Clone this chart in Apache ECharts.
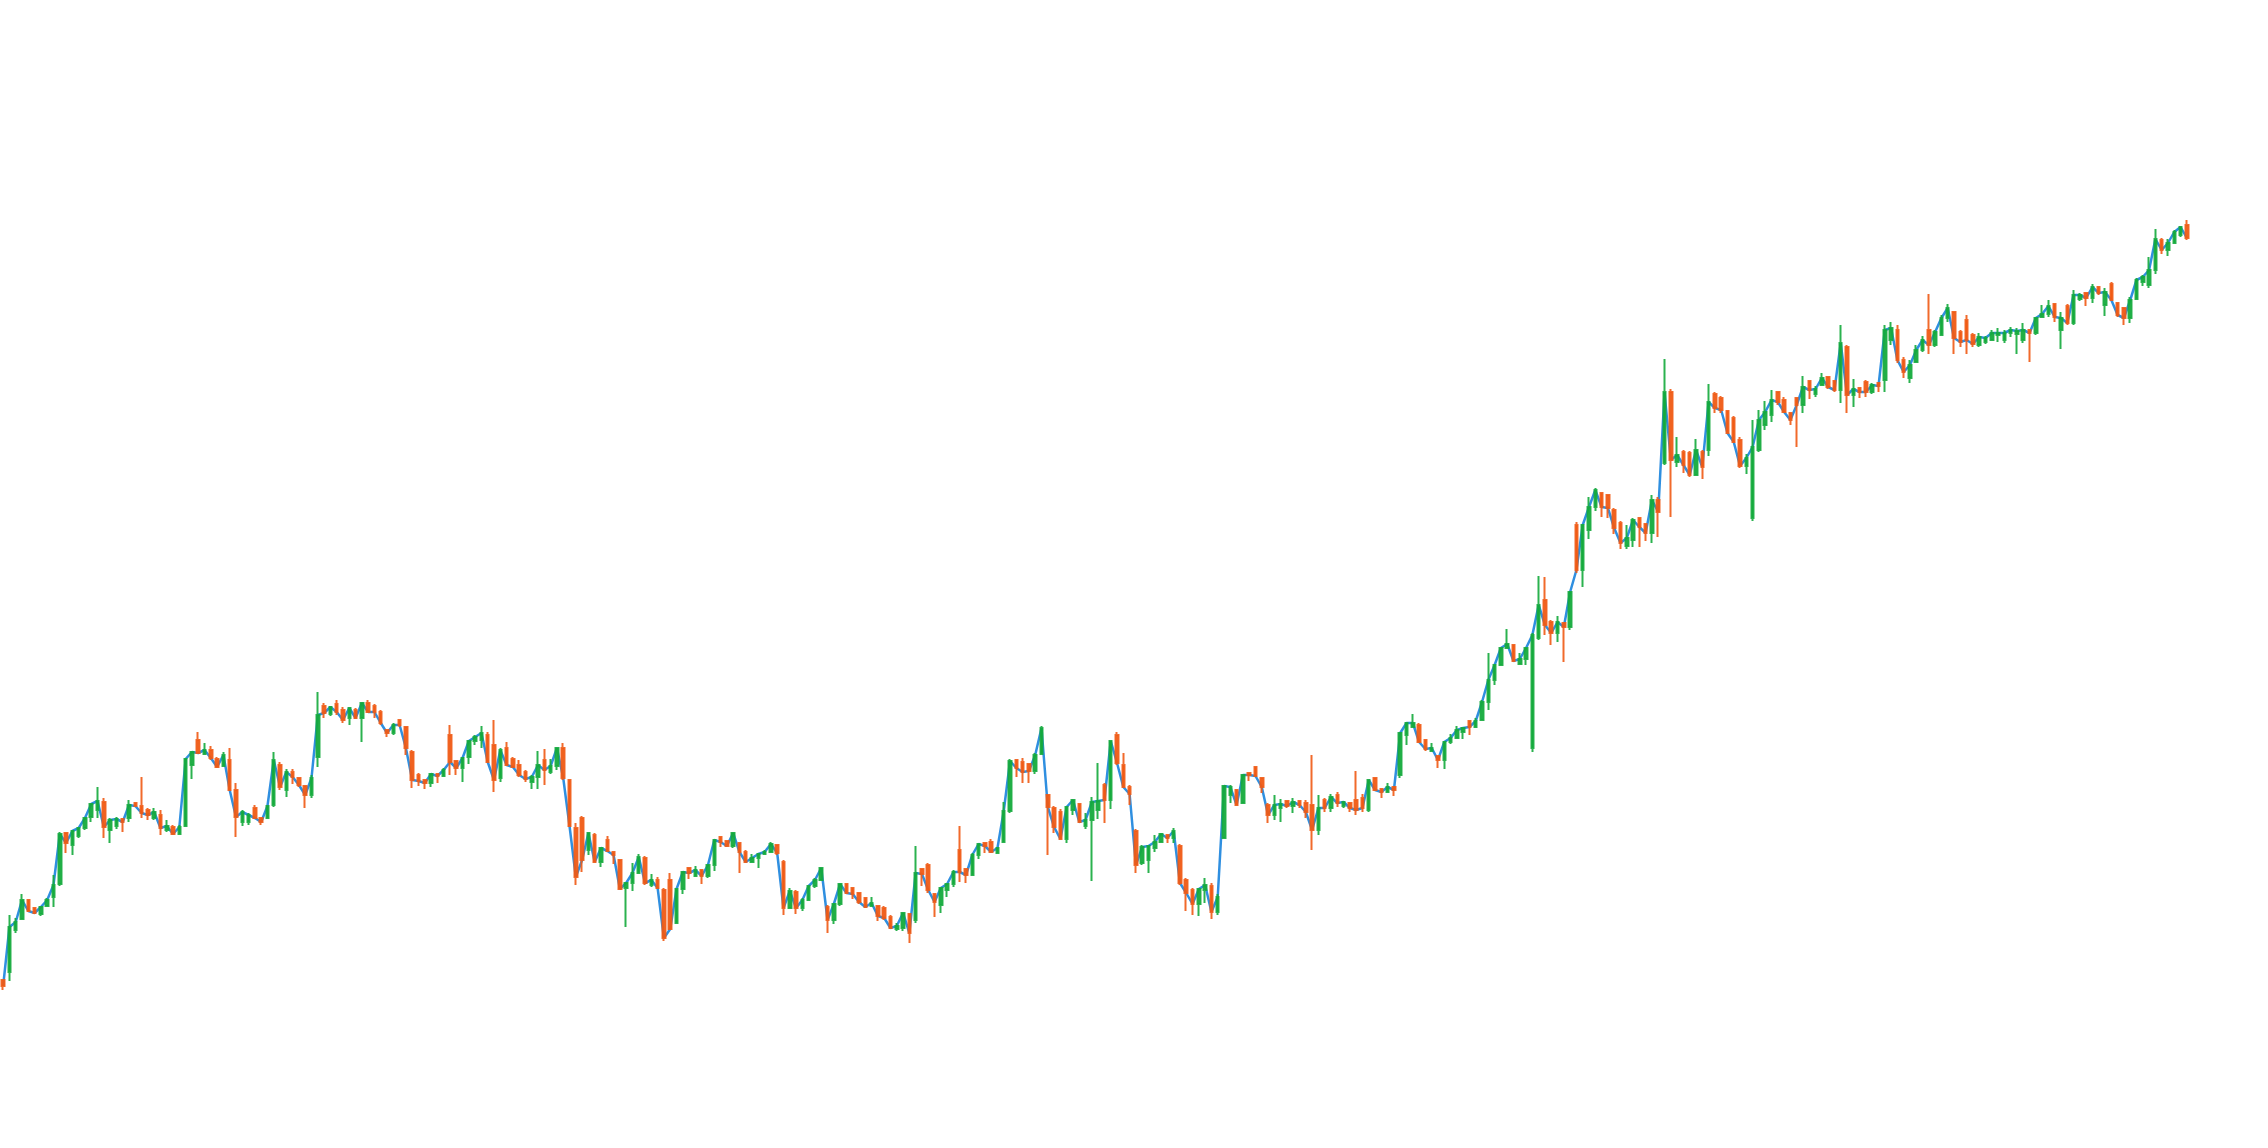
<!DOCTYPE html>
<html>
<head>
<meta charset="utf-8">
<style>html,body{margin:0;padding:0;background:#fff;}#chart{width:2268px;height:1148px;}</style>
<script src="https://cdn.jsdelivr.net/npm/echarts@6/dist/echarts.min.js"></script>
</head>
<body>
<div id="chart"></div>
<script>
const opens = [
120,128,170,181,200,192,186,194,203,216,
267,255,264,272,283,290,298,270,274,281,
282,297,294,290,282,285,270,273,266,274,
335,360,346,350,341,334,340,310,278,278,
292,282,282,295,335,310,328,322,314,305,
343,394,386,396,390,382,390,382,397,394,
388,370,367,380,373,348,325,320,317,326,
324,365,339,332,343,359,360,365,355,322,
352,341,335,328,318,323,340,328,334,352,
320,272,282,250,265,238,260,248,240,212,
217,227,242,215,220,210,220,177,211,232,
224,230,224,235,263,259,254,257,248,238,
242,246,248,255,238,192,208,192,200,214,
220,193,180,196,216,212,207,202,194,194,
192,183,171,172,186,180,231,235,206,195,
210,216,250,231,225,245,257,258,247,258,
289,340,338,336,329,346,305,292,288,261,
290,296,274,280,290,315,300,365,335,313,
269,237,240,252,258,265,262,254,220,210,
196,210,214,188,262,305,310,297,327,333,
322,295,285,292,299,294,299,297,295,270,
300,292,305,294,297,300,302,290,322,311,
308,313,325,365,373,375,360,349,344,340,
358,362,368,379,373,380,398,420,435,452,
455,436,441,352,462,500,478,467,477,473,
575,530,570,593,607,605,590,577,554,560,
582,576,567,600,637,708,638,648,647,625,
648,650,706,702,689,682,660,634,582,650,
675,685,708,700,687,702,695,719,706,715,
723,719,710,753,705,712,718,708,717,720,
760,770,740,722,738,750,770,755,765,782,
788,768,780,765,755,758,760,765,760,767,
766,760,770,767,783,786,796,770,794,777,
801,807,802,813,795,816,797,792,782,801,
818,815,830,860,850,857,865,875
];
const closes = [
114,173,178,200,189,187,193,200,215,266,
257,269,272,282,296,299,273,280,281,278,
295,294,287,285,288,272,274,266,273,341,
348,347,350,342,333,345,310,283,288,285,
282,278,294,340,313,328,323,315,305,322,
385,387,393,388,380,392,382,397,388,388,
377,367,375,375,352,320,319,317,326,324,
330,338,332,342,359,363,367,338,320,350,
335,333,325,321,323,335,330,334,352,322,
274,223,240,267,238,252,249,245,211,217,
227,243,217,220,212,162,171,211,228,227,
230,224,235,260,258,254,267,248,238,242,
246,248,256,247,192,209,192,200,214,220,
232,180,196,216,207,206,198,193,197,184,
182,172,174,187,167,227,226,210,198,212,
216,228,228,225,245,256,254,248,252,289,
339,332,328,329,345,372,293,273,261,293,
300,278,280,298,299,300,359,337,313,306,
235,253,254,258,266,262,269,217,207,196,
211,215,188,203,314,313,295,325,325,324,
313,285,295,296,294,298,295,288,270,292,
292,303,297,298,292,290,292,320,310,308,
313,310,367,377,377,358,351,352,340,358,
362,370,372,373,379,398,420,435,452,456,
439,441,452,465,495,475,467,478,473,508,
530,575,593,610,593,592,572,557,562,580,
573,567,600,588,708,640,645,635,625,650,
633,698,692,690,667,658,634,642,653,680,
688,700,698,688,680,695,713,710,711,722,
713,710,757,705,711,708,708,715,714,770,
772,740,728,735,750,760,755,768,782,792,
762,758,760,756,763,762,767,767,767,770,
769,770,767,782,786,794,783,782,777,805,
805,802,813,807,808,800,785,782,800,820,
823,830,861,850,857,868,873,862
];
const lows = [
110,119,167,180,188,186,184,193,193,214,
247,245,262,270,278,282,262,257,271,268,
278,293,282,280,280,265,268,265,265,273,
321,346,345,340,332,333,309,263,274,275,
281,275,281,293,310,303,316,313,292,302,
333,382,384,385,377,375,381,358,387,382,
375,363,365,373,345,312,314,311,313,317,
323,325,325,318,336,355,352,337,308,318,
334,332,323,318,311,311,315,326,330,320,
273,215,228,245,237,233,248,236,210,173,
209,226,215,213,211,159,170,176,206,221,
223,216,222,229,253,253,252,227,237,237,
232,245,247,245,185,191,186,189,199,212,
219,167,176,194,206,201,196,192,193,179,
180,171,169,169,157,177,214,207,183,187,
203,213,218,217,224,241,247,247,246,257,
287,323,317,317,326,345,245,267,260,257,
285,277,271,219,281,277,291,335,312,295,
227,235,227,248,257,257,257,215,189,185,
184,197,181,185,261,297,294,296,319,323,
307,277,280,278,292,287,292,282,250,265,
288,288,293,292,288,285,288,288,309,302,
307,304,322,355,372,357,349,348,332,331,
356,361,361,365,372,379,390,415,434,451,
438,435,435,348,460,465,455,458,438,470,
527,513,561,589,583,582,566,551,551,553,
553,559,557,563,635,583,633,627,623,624,
621,644,687,687,666,657,632,626,579,648,
670,678,695,687,675,653,687,701,703,714,
711,708,697,687,693,702,703,706,708,708,
755,737,722,717,738,748,746,753,764,778,
746,753,746,753,753,756,759,758,757,763,
746,757,738,765,782,783,778,751,775,775,
799,794,797,805,784,799,783,775,777,800,
814,812,826,846,844,856,863,860
];
const highs = [
121,185,182,206,201,193,194,202,225,268,
268,270,273,283,297,313,302,282,283,282,
300,298,323,292,292,290,280,275,275,342,
349,368,357,354,343,348,352,317,290,287,
295,283,295,348,338,331,331,323,315,325,
408,397,394,400,393,393,392,398,400,396,
390,371,377,381,374,350,327,321,327,327,
332,375,340,343,360,365,374,368,380,352,
358,343,340,330,325,349,351,341,353,357,
321,277,284,268,267,253,264,249,241,218,
237,246,244,226,223,212,227,212,229,233,
234,231,236,261,264,260,268,258,250,246,
247,250,258,256,240,212,210,202,215,222,
233,195,197,217,217,213,208,203,203,195,
194,185,177,188,187,254,232,237,207,213,
217,230,274,232,247,257,258,261,253,298,
341,341,342,337,347,374,306,294,291,294,
301,297,287,303,337,317,360,368,347,315,
271,255,255,265,267,266,272,256,222,212,
212,222,217,206,315,315,311,326,328,334,
323,297,305,301,300,302,300,300,345,305,
302,306,308,299,298,329,306,321,323,312,
317,314,368,378,386,377,361,357,345,359,
366,374,373,380,382,400,447,436,453,471,
456,447,453,467,524,523,480,484,478,509,
578,576,603,612,608,606,592,579,575,582,
583,577,605,603,741,711,663,650,649,661,
650,716,708,704,690,684,663,646,680,690,
699,710,709,703,688,703,724,720,714,727,
724,720,775,755,721,713,720,717,718,775,
778,775,743,740,755,764,806,770,785,796,
789,770,785,767,767,764,770,772,770,773,
772,777,771,783,795,800,797,788,796,810,
807,808,816,814,812,818,798,793,803,822,
825,843,871,862,861,870,874,880
];
const categories = closes.map((_, i) => String(i + 1));
const ohlc = opens.map((o, i) => [o, closes[i], lows[i], highs[i]]);

const chart = echarts.init(document.getElementById('chart'));
chart.setOption({
  animation: false,
  backgroundColor: '#ffffff',
  grid: { left: 0, right: 78, top: 0, bottom: 48 },
  xAxis: { type: 'category', data: categories, show: false, boundaryGap: true },
  yAxis: { type: 'value', min: 0, max: 1100, show: false, splitLine: { show: false } },
  series: [
    {
      type: 'line',
      data: closes,
      symbol: 'none',
      z: 2,
      lineStyle: { color: '#2f8fe0', width: 2.5 }
    },
    {
      type: 'candlestick',
      data: ohlc,
      barWidth: 3,
      z: 3,
      itemStyle: {
        color: '#14aa3c', color0: '#f05a14',
        borderColor: '#14aa3c', borderColor0: '#f05a14',
        borderWidth: 2, opacity: 0.9
      }
    }
  ]
});
</script>
</body>
</html>
